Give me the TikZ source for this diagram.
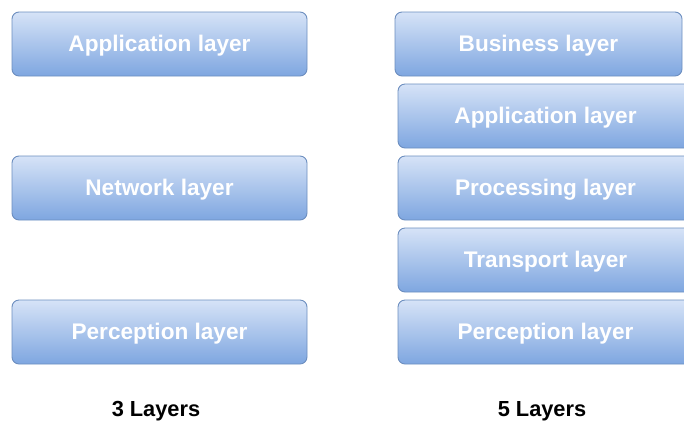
\documentclass[tikz,border=0pt]{standalone}
\usepackage{fontspec}
\setmainfont{Liberation Sans}
\tikzset{
  layer/.style={draw=layerline,line width=.9pt,rounded corners=7pt,top color=layertop,bottom color=layerbot,
    minimum width=295pt,minimum height=64pt,text height=19.5pt,text depth=5pt,
    text=white,font=\fontsize{22.6}{24}\selectfont\bfseries},
  caption/.style={font=\fontsize{21.8}{23}\selectfont\bfseries}
}
\definecolor{layerline}{HTML}{6C8EBF}
\definecolor{layertop}{HTML}{D6E3F7}
\definecolor{layerbot}{HTML}{7EA6E0}
\begin{document}
\begin{tikzpicture}[x=1pt,y=-1pt]
    \useasboundingbox(0,0)rectangle(684,424);
    \clip(0,0)rectangle(684,424);
    % 3 layers
    \node[layer](app3)at(159.5,44){Application layer};
    \node[layer](net3)at(159.5,188){Network layer};
    \node[layer](per3)at(159.5,332){Perception layer};
    \node[caption](cap3)at(156,411){3 Layers};
    % 5 layers
    \node[layer,minimum width=287pt](bus5)at(538.5,44){Business layer};
    \node[layer](app5)at(545.5,116){Application layer};
    \node[layer](pro5)at(545.5,188){Processing layer};
    \node[layer](tra5)at(545.5,260){Transport layer};
    \node[layer](per5)at(545.5,332){Perception layer};
    \node[caption](cap5)at(542,411){5 Layers};
\end{tikzpicture}
\end{document}
